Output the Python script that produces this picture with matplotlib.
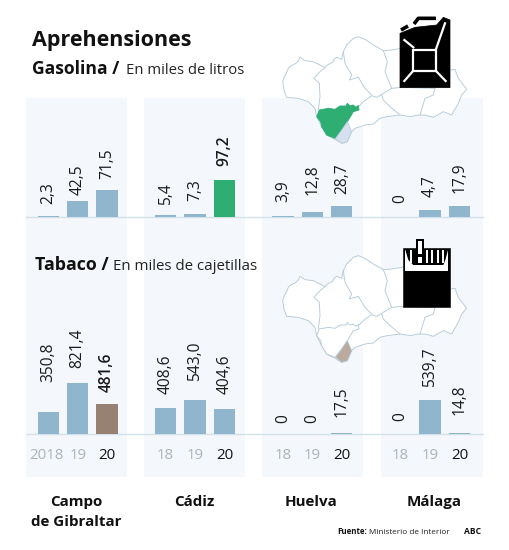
import matplotlib
matplotlib.use("Agg")
import matplotlib.pyplot as plt
from matplotlib.patches import Polygon, Rectangle

provinces = ["Campo\nde Gibraltar", "Cádiz", "Huelva", "Málaga"]
# bar heights (Málaga's gasoline bars are drawn taller than their labels say)
gasolina = [[2.3, 42.5, 71.5], [5.4, 7.3, 97.2], [3.9, 12.8, 28.7], [0, 18, 29]]
tabaco = [[350.8, 821.4, 481.6], [408.6, 543.0, 404.6], [0, 0, 17.5], [0, 539.7, 14.8]]
gasolina_labels = [["2,3", "42,5", "71,5"], ["5,4", "7,3", "97,2"], ["3,9", "12,8", "28,7"], ["0", "4,7", "17,9"]]
tabaco_labels = [["350,8", "821,4", "481,6"], ["408,6", "543,0", "404,6"], ["0", "0", "17,5"], ["0", "539,7", "14,8"]]
year_labels = [["2018", "19", "20"], ["18", "19", "20"], ["18", "19", "20"], ["18", "19", "20"]]

# label gap above the bar, in px
gas_gap = [[12, 6, 11], [10, 13, 14], [14, 17, 12], [14, 13, 13]]
tab_gap = [[30, 15, 12], [14, 19, 15], [11, 11, 16], [13, 13, 18]]

W, H = 510, 550
FONT = "Open Sans"
plt.rcParams["font.family"] = FONT
BLUE, GREEN, BROWN = "#8fb6cd", "#2fae74", "#968172"
PANEL, LINE, MAPLINE = "#f4f7fb", "#d3e2ea", "#b4cad9"
GREY = "#a9b4ba"
INK = "#111111"
PANEL_X = [(26, 127.5), (144, 245), (262.5, 363.5), (381.5, 483)]
FIRST_BAR = [37.7, 155, 272.5, 390]
PITCH, BAR_W = 29.4, 21.2

fig = plt.figure(figsize=(W / 100, H / 100), dpi=100, facecolor="white")
bg = fig.add_axes([0, 0, 1, 1], zorder=0)
bg.set_xlim(0, W); bg.set_ylim(H, 0); bg.axis("off")

for x0, x1 in PANEL_X:
    bg.add_patch(Rectangle((x0, 98), x1 - x0, 379, fc=PANEL, ec="none"))
for yb in (217, 434):
    bg.plot([26, 483], [yb, yb], color=LINE, lw=1, zorder=1)


def section(values, labels, gaps, top, base, pxunit, highlight, hcol, years=False):
    for p, (x0, x1) in enumerate(PANEL_X):
        ax = fig.add_axes([x0 / W, 1 - base / H, (x1 - x0) / W, (base - top) / H], zorder=2)
        ax.patch.set_alpha(0)
        ax.set_xlim(x0, x1)
        ax.set_ylim(0, (base - top) / pxunit)
        ax.set_xticks([]); ax.set_yticks([])
        for s in ax.spines.values():
            s.set_visible(False)
        xs = [FIRST_BAR[p] + BAR_W / 2 + i * PITCH for i in range(3)]
        cols = [BLUE] * 3
        if p == highlight:
            cols[2] = hcol
        ax.bar(xs, values[p], BAR_W, color=cols, zorder=2)
        for i, x in enumerate(xs):
            bold = p == highlight and i == 2
            ax.annotate(labels[p][i], (x, values[p][i]), xytext=(0, gaps[p][i] * 0.72),
                        textcoords="offset points", rotation=90, ha="center", va="bottom",
                        fontsize=11.2, color="#1a1a1a", annotation_clip=False,
                        fontweight="semibold" if bold else "normal")
            if years:
                ax.annotate(year_labels[p][i], (x, 0), xytext=(-1.5 if year_labels[p][i] == "2018" else 0, -15.5),
                            textcoords="offset points", ha="center", va="center", fontsize=10.8,
                            annotation_clip=False, color=INK if i == 2 else GREY)


outer = [(38,245),(42,232),(48,222),(55,205),(62,198),(78,190),(85,183),(90,172),(105,182),(130,185),(150,195),(165,203),
         (172,195),(188,187),(192,178),(200,172),(215,178),(220,155),(230,135),(250,115),(265,110),(285,118),(310,135),
         (340,152),(365,150),(395,145),(420,140),(480,150),(540,210),(555,208),(565,235),(590,268),(575,285),(565,310),
         (545,345),(520,335),(490,352),(465,345),(445,345),(420,350),(390,345),(350,350),(330,355),(310,372),(285,375),
         (255,385),(245,395),(232,425),(215,430),(195,418),(170,405),(155,380),(140,350),(135,325),(115,305),
         (85,295),(50,292),(42,270)]
inner = [[(165,203),(150,215),(132,235),(148,250),(150,290),(145,330)],
         [(220,155),(225,190),(245,225),(238,240),(265,232),(285,265),(305,285)],
         [(265,320),(280,305),(305,287),(320,292),(340,280),(365,265)],
         [(340,152),(352,185),(345,215),(365,265),(395,262),(495,265)],
         [(335,285),(340,300),(360,320),(390,345)],
         [(495,265),(490,285),(465,295),(450,345)]]
cadiz = [(140,350),(148,330),(175,325),(195,328),(210,318),(228,318),(232,310),(240,318),(250,315),(258,322),(265,316),
         (267,330),(250,335),(243,347),(232,365),(215,390),(195,415),(170,405),(155,380),(152,365)]
campo = [(232,365),(245,395),(232,425),(215,430),(197,415),(215,390)]


def mp(pts, dy):
    return [(x / 3 + 270, y / 3 + dy) for x, y in pts]


def draw_map(dy, cadiz_fc, campo_fc):
    bg.add_patch(Polygon(mp(outer, dy), closed=True, fc="white", ec=MAPLINE, lw=0.65, zorder=3))
    for line in inner:
        xy = mp(line, dy)
        bg.plot([a for a, _ in xy], [b for _, b in xy], color=MAPLINE, lw=0.65, zorder=3)
    bg.add_patch(Polygon(mp(cadiz, dy), closed=True, fc=cadiz_fc,
                         ec=MAPLINE if cadiz_fc == "white" else cadiz_fc, lw=0.65, zorder=4))
    bg.add_patch(Polygon(mp(campo, dy), closed=True, fc=campo_fc, ec=MAPLINE, lw=0.5, zorder=4))


draw_map(0, GREEN, "#d5e1ee")
draw_map(219, "white", "#bbaa9d")

# jerrycan icon
K = "black"
bg.add_patch(Polygon(mp([(390,100),(435,82),(500,75),(520,52),(540,60),(540,263),(390,263)], 0), fc=K, ec=K, lw=0.5, zorder=5))
for seg in [[(432,72),(445,55),(498,55)], [(393,90),(414,78)]]:
    xy = mp(seg, 0)
    bg.plot([a for a, _ in xy], [b for _, b in xy], color=K, lw=2.6, solid_capstyle="butt", zorder=5)
for seg in [[(403,120),(430,142)], [(525,70),(497,150)], [(403,243),(430,212)], [(527,243),(497,212)]]:
    xy = mp(seg, 0)
    bg.plot([a for a, _ in xy], [b for _, b in xy], color="white", lw=1.6, zorder=6)
bg.add_patch(Polygon(mp([(430,150),(497,150),(497,212),(430,212)], 0), fc=K, ec="white", lw=1.6, zorder=6))

# cigarette packet icon
def cg(pts):
    return [(x / 3 + 270, y / 3 + 230) for x, y in pts]

bg.add_patch(Polygon(cg([(400,53),(540,53),(540,232),(400,232)]), fc=K, ec=K, lw=0.4, zorder=5))
bg.add_patch(Polygon(cg([(406,60),(534,60),(534,122),(406,122)]), fc="white", ec="none", zorder=6))
bg.add_patch(Polygon(cg([(406,60),(534,60),(526,90),(520,105),(430,105),(415,90)]), fc=K, ec="none", zorder=6))
bg.add_patch(Polygon(cg([(438,27),(462,27),(462,105),(438,105)]), fc=K, ec="none", zorder=7))
bg.add_patch(Polygon(cg([(444,33),(456,33),(456,72),(444,72)]), fc="white", ec="none", zorder=7))
bg.add_patch(Polygon(cg([(444,82),(456,82),(456,100),(444,100)]), fc="white", ec="none", zorder=7))
for xs in [(420,426),(468,474),(484,490),(500,506),(516,522)]:
    bg.add_patch(Polygon(cg([(xs[0],60),(xs[1],60),(xs[1],100),(xs[0],100)]), fc="white", ec="none", zorder=7))

section(gasolina, gasolina_labels, gas_gap, 98, 217, 0.38, 1, GREEN)
section(tabaco, tabaco_labels, tab_gap, 240, 434, 0.0625, 0, BROWN, years=True)

bg.text(32, 46, "Aprehensiones", fontsize=15.5, fontweight="bold", va="baseline", color=INK)
bg.text(32.5, 74.3, "Gasolina /", fontsize=12.6, fontweight="bold", va="baseline", color=INK)
bg.text(126.5, 74.3, "En miles de litros", fontsize=10.7, va="baseline", color="#222222")
bg.text(35, 270, "Tabaco /", fontsize=12.8, fontweight="bold", va="baseline", color=INK)
bg.text(113.5, 270, "En miles de cajetillas", fontsize=10.8, va="baseline", color="#222222")

for cx, name in zip([76, 194, 311, 434], provinces):
    parts = name.split("\n")
    for k, part in enumerate(parts):
        bg.text(cx, 505.7 + 20.3 * k, part, fontsize=10.9, fontweight="bold", ha="center", va="baseline", color=INK)

bg.text(337.3, 533.5, "Fuente:", fontsize=5.7, fontweight="bold", va="baseline", color=INK)
bg.text(369.5, 533.5, "Ministerio de Interior", fontsize=5.9, va="baseline", color="#222222")
bg.text(464, 533.5, "ABC", fontsize=6.1, fontweight="bold", va="baseline", color=INK)

fig.savefig("out.png", dpi=100, facecolor="white")
